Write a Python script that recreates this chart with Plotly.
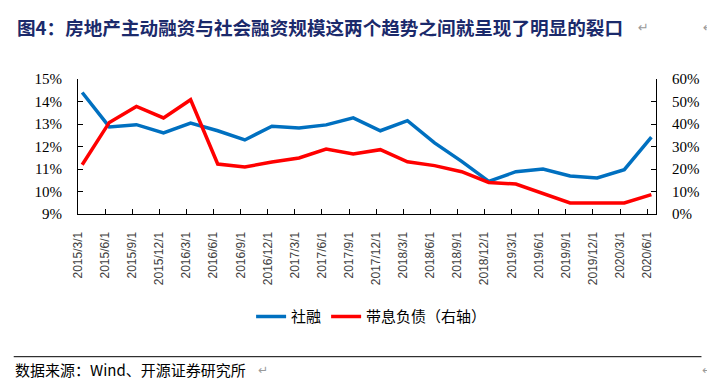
import plotly.graph_objects as go

dates = ["2015/3/1", "2015/6/1", "2015/9/1", "2015/12/1", "2016/3/1", "2016/6/1",
         "2016/9/1", "2016/12/1", "2017/3/1", "2017/6/1", "2017/9/1", "2017/12/1",
         "2018/3/1", "2018/6/1", "2018/9/1", "2018/12/1", "2019/3/1", "2019/6/1",
         "2019/9/1", "2019/12/1", "2020/3/1", "2020/6/1"]

shrong = [14.40, 12.87, 12.97, 12.60, 13.04, 12.70, 12.29, 12.90, 12.82, 12.96, 13.27, 12.70,
          13.15, 12.16, 11.34, 10.45, 10.88, 11.00, 10.69, 10.60, 10.97, 12.42]

debt = [21.9, 40.7, 47.8, 42.7, 50.8, 22.2, 20.9, 23.1, 24.9, 28.9, 26.7, 28.6,
        23.2, 21.5, 18.8, 14.0, 13.3, 9.3, 4.9, 4.9, 4.9, 8.6]

left_ticks = [9, 10, 11, 12, 13, 14, 15]
right_ticks = [0, 10, 20, 30, 40, 50, 60]

idx = list(range(len(dates)))
tick_pos = [i - 0.155 for i in idx]

fig = go.Figure()
fig.add_trace(go.Scatter(x=idx, y=shrong, mode="lines", name="社融",
                         line=dict(color="#0070C0", width=3.5)))
fig.add_trace(go.Scatter(x=idx, y=debt, mode="lines", name="带息负债（右轴）", yaxis="y2",
                         line=dict(color="#FF0000", width=3.5)))

# page has an 8px body margin, so the figure is drawn 8px in from the window corner
OFF = 8
W, H = 715 - OFF, 391 - OFF
PL, PR, PT, PB = 78.3, 656.5, 79.3, 214.3   # plot area in window pixels
L = PL - OFF
T = PT - OFF
R = W - (PR - OFF)
B = H - (PB - OFF)
pw, ph = PR - PL, PB - PT

def px_x(p):
    return (p - PL) / pw

def px_y(p):
    return (PB - p) / ph

fig.update_layout(
    width=W, height=H,
    margin=dict(l=L, r=R, t=T, b=B, pad=0),
    paper_bgcolor="white", plot_bgcolor="white",
    showlegend=True,
    legend=dict(orientation="h", x=px_x(372), xanchor="center", y=px_y(317), yanchor="middle",
                font=dict(family="Noto Sans CJK SC", size=15, color="#000000"),
                itemwidth=30, tracegroupgap=0, bgcolor="rgba(0,0,0,0)"),
    xaxis=dict(range=[-0.155, 21.17], tickmode="array", tickvals=tick_pos, ticktext=dates,
               tickangle=-90, ticks="inside", ticklen=5, tickcolor="#000000",
               showline=True, linecolor="#000000", linewidth=1, showgrid=False, zeroline=False,
               tickfont=dict(family="Liberation Sans", size=12, color="#404040"),
               ticklabelstandoff=12),
    yaxis=dict(range=[9, 15], tickmode="array", tickvals=left_ticks,
               ticktext=[f"{v}%" for v in left_ticks],
               ticks="inside", ticklen=5, tickcolor="#000000",
               showline=True, linecolor="#000000", linewidth=1, showgrid=False, zeroline=False,
               tickfont=dict(family="Liberation Serif", size=15, color="#000000"),
               ticklabelstandoff=12),
    yaxis2=dict(range=[0, 60], overlaying="y", side="right", tickmode="array",
                tickvals=right_ticks, ticktext=[f"{v}%" for v in right_ticks],
                ticks="inside", ticklen=5, tickcolor="#000000",
                showline=True, linecolor="#000000", linewidth=1, showgrid=False, zeroline=False,
                tickfont=dict(family="Liberation Serif", size=15, color="#000000"),
                ticklabelstandoff=12),
)

fig.add_annotation(text="<b>图4：房地产主动融资与社会融资规模这两个趋势之间就呈现了明显的裂口</b>",
                   xref="paper", yref="paper", x=px_x(15), y=px_y(27),
                   xanchor="left", yanchor="middle", showarrow=False,
                   font=dict(family="Noto Sans CJK SC", size=18.6, color="#1B2A6B"))
fig.add_annotation(text="↵", xref="paper", yref="paper", x=px_x(636), y=px_y(28),
                   xanchor="left", yanchor="middle", showarrow=False,
                   font=dict(family="DejaVu Sans", size=13, color="#9A9A9A"))
fig.add_annotation(text="↵", xref="paper", yref="paper", x=px_x(702), y=px_y(28),
                   xanchor="left", yanchor="middle", showarrow=False,
                   font=dict(family="DejaVu Sans", size=13, color="#9A9A9A"))

fig.add_shape(type="line", xref="paper", yref="paper", x0=px_x(14), x1=px_x(702),
              y0=px_y(357), y1=px_y(357), line=dict(color="#000000", width=1))

fig.add_annotation(text="数据来源：Wind、开源证券研究所", xref="paper", yref="paper",
                   x=px_x(13), y=px_y(370), xanchor="left", yanchor="middle", showarrow=False,
                   font=dict(family="Noto Sans CJK SC", size=15, color="#000000"))
fig.add_annotation(text="↵", xref="paper", yref="paper", x=px_x(256), y=px_y(370),
                   xanchor="left", yanchor="middle", showarrow=False,
                   font=dict(family="DejaVu Sans", size=12, color="#9A9A9A"))
fig.add_annotation(text="↵", xref="paper", yref="paper", x=px_x(701), y=px_y(370),
                   xanchor="left", yanchor="middle", showarrow=False,
                   font=dict(family="DejaVu Sans", size=12, color="#9A9A9A"))

fig.write_html("out.html")
